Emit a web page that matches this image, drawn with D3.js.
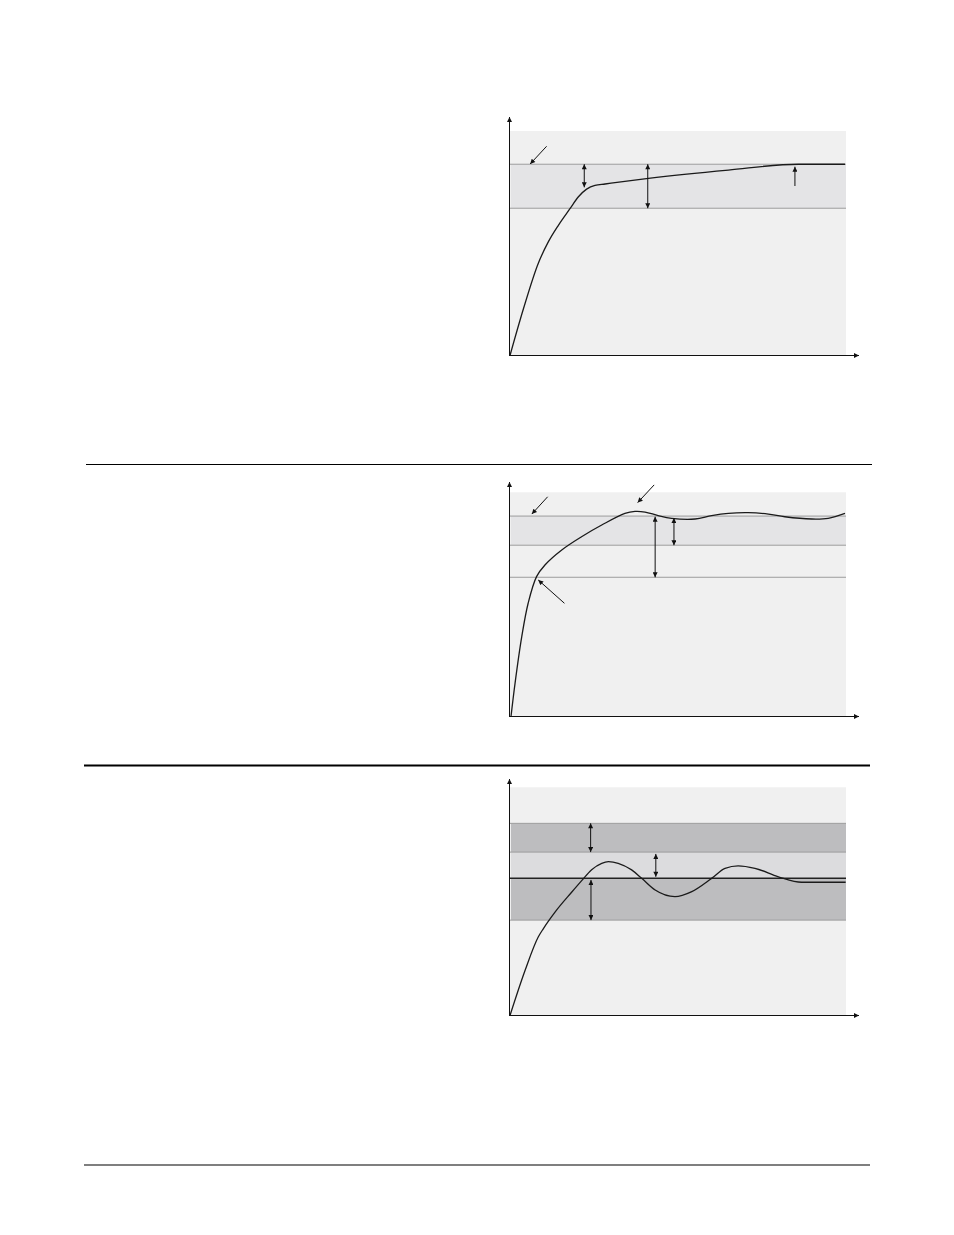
<!DOCTYPE html>
<html>
<head>
<meta charset="utf-8">
<script src="https://cdn.jsdelivr.net/npm/d3@7"></script>
<style>
  body { margin: 0; background: #fff; }
  svg { display: block; }
</style>
</head>
<body>
<div id="page"></div>
<script>
// donnees (x et y en unites 0-100 de la zone de trace)
const courbe1 = [
    [0, 0], [4.0, 20.8], [8.4, 41.0], [11.4, 50.6], [14.4, 58.0], [17.9, 65.5],
    [20.3, 70.6], [22.8, 74.1], [25.3, 75.8], [28.3, 76.4], [41.2, 78.9], [65, 82.6],
    [85.8, 85.2], [99.7, 85.2]
];
const lignes1 = [85.2, 65.6];
const bandes1 = [{ haut: 85.2, bas: 65.6, couleur: "#e4e4e6" }];
const fleches1 = [
    { x1: 10.9, y1: 93.2, x2: 6.0, y2: 85.3, double: false },
    { x1: 22.1, y1: 85.2, x2: 22.1, y2: 74.9, double: true },
    { x1: 41.0, y1: 85.2, x2: 41.0, y2: 65.6, double: true },
    { x1: 84.8, y1: 75.5, x2: 84.8, y2: 84.1, double: false }
];

const courbe2 = [
    [0.3, 0], [1.5, 14.8], [3.5, 35.6], [5.4, 50.5], [7.9, 62.4], [10.4, 67.6],
    [15.4, 74.3], [21.3, 80.2], [27.3, 85.4], [34.2, 90.6], [37.2, 91.5], [40.2, 91.2],
    [44.1, 89.6], [48.1, 88.4], [55.1, 88.1], [60.0, 89.6], [65.0, 90.6], [70.9, 90.9],
    [76.9, 90.3], [81.8, 89.1], [89.8, 88.1], [94.7, 88.4], [99.7, 90.6]
];
const lignes2 = [89.4, 76.4, 62.1];
const bandes2 = [{ haut: 89.4, bas: 76.4, couleur: "#e4e4e6" }];
const fleches2 = [
    { x1: 11.2, y1: 98.0, x2: 6.5, y2: 90.3, double: false },
    { x1: 42.9, y1: 103.3, x2: 38.0, y2: 95.4, double: false },
    { x1: 16.2, y1: 50.5, x2: 8.4, y2: 60.9, double: false },
    { x1: 43.2, y1: 89.1, x2: 43.2, y2: 62.1, double: true },
    { x1: 48.8, y1: 88.5, x2: 48.8, y2: 76.4, double: true }
];

const courbe3 = [
    [0, 0], [4.5, 19.8], [8.4, 34.4], [9.9, 38.0], [13.4, 45.3], [18.4, 54.1],
    [21.4, 59.2], [24.3, 63.9], [27.3, 66.7], [29.3, 67.4], [32.2, 66.7], [36.2, 63.8],
    [39.2, 60.1], [43.2, 55.0], [49.1, 52.1], [54.1, 54.3], [60.0, 60.1], [64.0, 64.5],
    [67.9, 65.6], [72.9, 64.5], [79.9, 60.8], [86.8, 58.4], [99.9, 58.4]
];
const lignes3 = [84.2, 71.6, 41.8];
const bandes3 = [
    { haut: 84.2, bas: 71.6, couleur: "#bdbdbf" },
    { haut: 71.6, bas: 60.1, couleur: "#dcdcde" },
    { haut: 60.1, bas: 41.8, couleur: "#bdbdbf" }
];
const consigne3 = 60.1;
const fleches3 = [
    { x1: 24.0, y1: 84.2, x2: 24.0, y2: 71.6, double: true },
    { x1: 43.4, y1: 70.8, x2: 43.4, y2: 60.8, double: true },
    { x1: 24.1, y1: 59.4, x2: 24.1, y2: 41.8, double: true }
];

const width = 954, height = 1235;

const svg = d3.select("#page").append("svg")
    .attr("width", width)
    .attr("height", height);

// pointe de fleche
const defs = svg.append("defs");
defs.append("marker")
    .attr("id", "pointe")
    .attr("viewBox", "0 0 10 10")
    .attr("refX", 10)
    .attr("refY", 5)
    .attr("markerWidth", 7)
    .attr("markerHeight", 5)
    .attr("markerUnits", "userSpaceOnUse")
    .attr("orient", "auto-start-reverse")
    .append("path")
    .attr("d", "M0,0 L10,5 L0,10 Z")
    .style("fill", "#111");

function AffichageGraph(conf) {
    const x = d3.scaleLinear().domain([0, 100]).range([510, 846]);
    const y = d3.scaleLinear().domain([0, 100]).range([conf.axeY, conf.fondHaut]);
    const g = svg.append("g");

    // fond gris clair
    g.append("rect")
        .attr("x", x(0))
        .attr("y", y(100))
        .attr("width", x(100) - x(0))
        .attr("height", y(0) - y(100))
        .style("fill", "#f0f0f0");

    g.selectAll(".bande")
        .data(conf.bandes)
        .enter()
        .append("rect")
        .attr("class", "bande")
        .attr("x", x(0) + 1)
        .attr("y", d => y(d.haut))
        .attr("width", x(100) - x(0) - 1)
        .attr("height", d => y(d.bas) - y(d.haut))
        .style("fill", d => d.couleur);

    g.selectAll(".limite")
        .data(conf.lignes)
        .enter()
        .append("line")
        .attr("class", "limite")
        .attr("x1", x(0))
        .attr("x2", x(100))
        .attr("y1", d => y(d))
        .attr("y2", d => y(d))
        .style("stroke", "#9d9d9d")
        .style("stroke-width", 1);

    if (conf.consigne !== undefined) {
        g.append("line")
            .attr("x1", x(0))
            .attr("x2", x(100))
            .attr("y1", y(conf.consigne))
            .attr("y2", y(conf.consigne))
            .style("stroke", "#222")
            .style("stroke-width", 1.5);
    }

    // courbe
    const ligne = d3.line()
        .x(d => x(d[0]))
        .y(d => y(d[1]))
        .curve(conf.lissage);

    g.append("path")
        .datum(conf.courbe)
        .attr("d", ligne)
        .style("fill", "none")
        .style("stroke", "#1a1a1a")
        .style("stroke-width", 1.3);

    // fleches d'annotation
    g.selectAll(".fleche")
        .data(conf.fleches)
        .enter()
        .append("line")
        .attr("class", "fleche")
        .attr("x1", d => x(d.x1))
        .attr("y1", d => y(d.y1))
        .attr("x2", d => x(d.x2))
        .attr("y2", d => y(d.y2))
        .attr("marker-end", "url(#pointe)")
        .attr("marker-start", d => d.double ? "url(#pointe)" : null)
        .style("stroke", "#111")
        .style("stroke-width", 1);

    // axes avec fleches
    g.append("line")
        .attr("x1", x(0) - 0.5)
        .attr("y1", y(0))
        .attr("x2", x(0) - 0.5)
        .attr("y2", conf.flecheY)
        .attr("marker-end", "url(#pointe)")
        .style("stroke", "#111")
        .style("stroke-width", 1);

    g.append("line")
        .attr("x1", x(0) - 1)
        .attr("y1", y(0))
        .attr("x2", 859)
        .attr("y2", y(0))
        .attr("marker-end", "url(#pointe)")
        .style("stroke", "#111")
        .style("stroke-width", 1);
}

AffichageGraph({ axeY: 355.5, fondHaut: 131, flecheY: 117, courbe: courbe1, lignes: lignes1,
    bandes: bandes1, fleches: fleches1, lissage: d3.curveMonotoneX });
AffichageGraph({ axeY: 716.5, fondHaut: 492.3, flecheY: 482, courbe: courbe2, lignes: lignes2,
    bandes: bandes2, fleches: fleches2, lissage: d3.curveCatmullRom });
AffichageGraph({ axeY: 1015.5, fondHaut: 787.3, flecheY: 779, courbe: courbe3, lignes: lignes3,
    bandes: bandes3, fleches: fleches3, consigne: consigne3, lissage: d3.curveMonotoneX });

// traits de separation de la page
const traits = [
    { y: 464.5, x1: 86, x2: 872, epaisseur: 1.2 },
    { y: 765.5, x1: 84, x2: 870, epaisseur: 2 },
    { y: 1165, x1: 84, x2: 870, epaisseur: 1.2 }
];
svg.selectAll(".trait")
    .data(traits)
    .enter()
    .append("line")
    .attr("class", "trait")
    .attr("x1", d => d.x1)
    .attr("x2", d => d.x2)
    .attr("y1", d => d.y)
    .attr("y2", d => d.y)
    .style("stroke", "#000")
    .style("stroke-width", d => d.epaisseur);
</script>
</body>
</html>
